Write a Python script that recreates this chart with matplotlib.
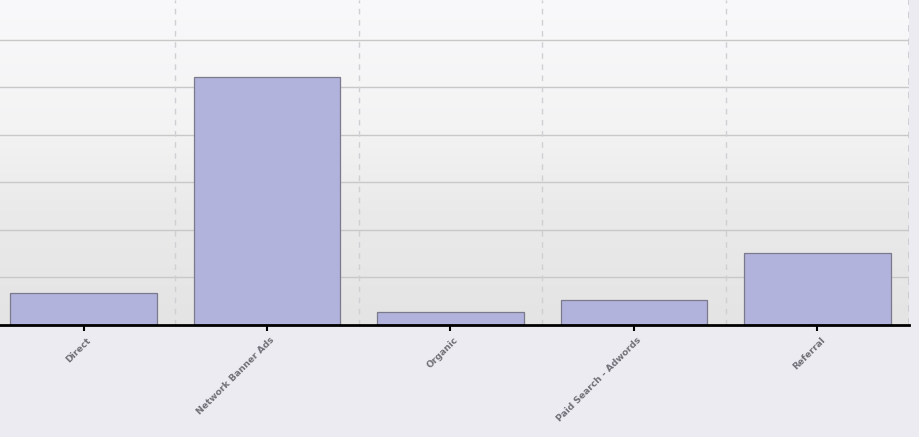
import matplotlib
matplotlib.use("Agg")
import matplotlib.pyplot as plt
import numpy as np
from matplotlib.colors import LinearSegmentedColormap
from matplotlib.transforms import ScaledTranslation

# valores
categorias = ["Direct", "Network Banner Ads", "Organic", "Paid Search - Adwords", "Referral"]
valores = [0.66, 5.21, 0.26, 0.51, 1.50]

fig = plt.figure(figsize=(9.2, 4.37), dpi=100, facecolor="#ECEBF1")
ax = fig.add_axes([-8 / 920, (437 - 324.5) / 437, 917 / 920, 324.5 / 437])

# fundo em degradê (claro em cima, cinza embaixo)
cmap = LinearSegmentedColormap.from_list(
    "fundo", [(0, "#E4E4E4"), (0.35, "#EAEAEA"), (0.6, "#F3F3F4"), (1, "#F9F9FB")]
)
grad = np.linspace(0, 1, 256).reshape(-1, 1)
ax.imshow(grad, extent=[0, 1, 0, 1], transform=ax.transAxes, aspect="auto",
          cmap=cmap, origin="lower", zorder=0)

x = np.arange(len(categorias))
ax.bar(x, valores, width=0.8, color="#B1B3DC", edgecolor="#7A7A8C",
       linewidth=0.9, zorder=3)

ax.set_xlim(-0.5, len(categorias) - 0.5)
ax.set_ylim(0, 324.5 / 47.5)

# grade horizontal
for y in range(1, 7):
    ax.axhline(y, color="#C8C8C8", lw=1, zorder=1)
# separadores tracejados entre categorias
for b in x[:-1] + 0.5:
    ax.axvline(b, color="#CFCFD4", lw=1, ls=(0, (4, 4)), zorder=1)
ax.axvline(len(categorias) - 0.5, color="#C8C8CE", lw=1.2, ls=(0, (4, 4)), zorder=1)

for s in ["top", "left", "right"]:
    ax.spines[s].set_visible(False)
ax.spines["bottom"].set_linewidth(2)
ax.spines["bottom"].set_color("black")
ax.spines["bottom"].set_zorder(5)

ax.set_yticks([])
ax.set_xticks(x)
ax.set_xticklabels(categorias, rotation=45, ha="right", va="top",
                   rotation_mode="anchor", family="DejaVu Sans",
                   fontsize=6.6, fontweight="bold", color="#707078")
ax.tick_params(axis="x", length=4, width=1.5, color="black", pad=4)
offset = ScaledTranslation(3 / 100, 0, fig.dpi_scale_trans)
for lbl in ax.get_xticklabels():
    lbl.set_transform(lbl.get_transform() + offset)

fig.savefig("out.png", dpi=100, facecolor=fig.get_facecolor())
